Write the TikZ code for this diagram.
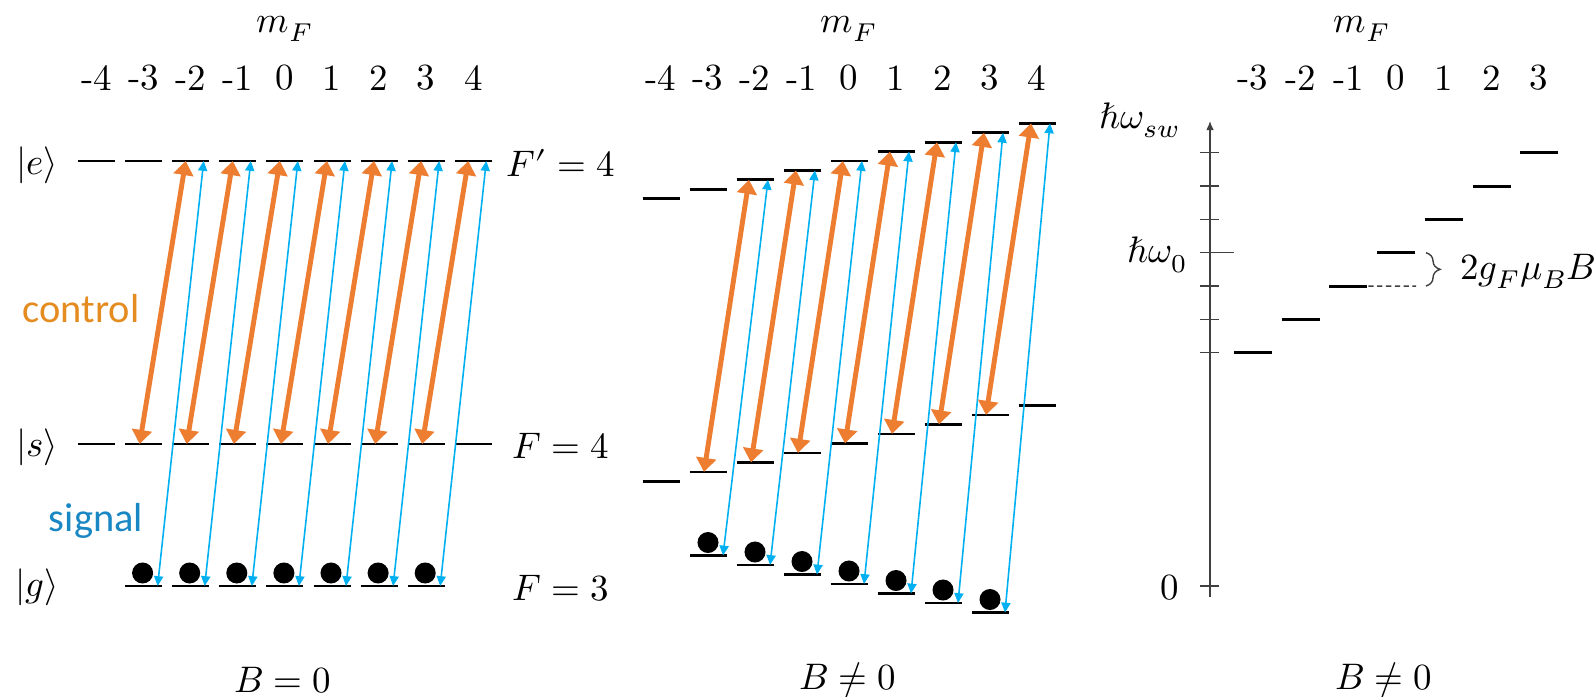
\documentclass[tikz,border=0pt]{standalone}
\usepackage{fontspec}
\usepackage{unicode-math}
\setmathfont{Latin Modern Math}
\newfontfamily\calibri{Carlito}
\usetikzlibrary{calc, arrows.meta, decorations.pathreplacing}
\definecolor{ctrlorange}{RGB}{237,125,49}
\definecolor{sigblue}{RGB}{0,176,240}
\definecolor{ctrltext}{RGB}{228,140,32}
\definecolor{sigtext}{RGB}{25,135,195}

\begin{document}
\begin{tikzpicture}[x=0.01cm, y=-0.01cm, thick, >=latex,
    font=\fontsize{10.5}{12.6}\selectfont,
    lvl/.style={line width=0.8pt},
    ctrl/.style={ctrlorange, line width=1.4pt, {Triangle[width=5.6pt,length=4pt]}-{Triangle[width=5.6pt,length=4pt]}},
    sig/.style={sigblue, line width=0.45pt, {Triangle[width=2.6pt,length=2.8pt]}-{Triangle[width=2.6pt,length=2.8pt]}},
    atom/.style={circle, fill=black, inner sep=0pt, minimum size=0.21cm},
    axis/.style={line width=0.4pt, black!75}]
    \useasboundingbox (0,0) rectangle (1596,697);

    % B = 0
    \node (mfL) at (285,29) {$m_F$};
    \foreach \k/\m in {0/-4,1/-3,2/-2,3/-1,4/0,5/1,6/2,7/3,8/4} {
        \node (Ln\k) at ({96.5+47.1*\k},78) {\m};
        \coordinate (Le\k) at ({96.5+47.1*\k},161);
        \coordinate (Ls\k) at ({96.5+47.1*\k},444);
        \draw[lvl] (Le\k) ++(-18.5,0) -- ++(37,0);
        \draw[lvl] (Ls\k) ++(-18.5,0) -- ++(37,0);
    }
    \foreach \k in {1,...,7} {
        \coordinate (Lg\k) at ({96.5+47.1*\k},586);
        \draw[lvl] (Lg\k) ++(-18.5,0) -- ++(37,0);
        \node[atom] (La\k) at ($(Lg\k)+(-1,-13)$) {};
    }
    \foreach \k in {1,...,7} {
        \pgfmathtruncatemacro{\j}{\k+1}
        \draw[ctrl] ($(Ls\k)+(-4,0)$) -- ($(Le\j)+(-5,0)$);
        \draw[sig] ($(Lg\k)+(14,0)$) -- ($(Le\j)+(13,0)$);
    }
    \node (ket_e) at (37,165) {$|e\rangle$};
    \node (ket_s) at (37,447) {$|s\rangle$};
    \node (ket_g) at (37,587) {$|g\rangle$};
    \node[ctrltext, font=\calibri\fontsize{11.5}{13}\selectfont] (ctrl) at (81,309) {control};
    \node[sigtext, font=\calibri\fontsize{11.5}{13}\selectfont] (sig) at (96,521) {signal};
    \node (Fe) at (561,163) {$F' = 4$};
    \node (Fs) at (561,446) {$F = 4$};
    \node (Fg) at (561,588) {$F = 3$};
    \node (BL) at (283,680) {$B = 0$};

    % B != 0, shifted levels
    \node (mfM) at (849,29) {$m_F$};
    \foreach \k/\m in {0/-4,1/-3,2/-2,3/-1,4/0,5/1,6/2,7/3,8/4} {
        \node (Mn\k) at ({661+47*\k},78) {\m};
        \coordinate (Me\k) at ({661+47*\k},{161-9.4*(\k-4)});
        \coordinate (Ms\k) at ({661+47*\k},{443.5-9.5*(\k-4)});
        \draw[lvl] (Me\k) ++(-18.5,0) -- ++(37,0);
        \draw[lvl] (Ms\k) ++(-18.5,0) -- ++(37,0);
    }
    \foreach \k in {1,...,7} {
        \coordinate (Mg\k) at ({661+47*\k},{584+9.5*(\k-4)});
        \draw[lvl] (Mg\k) ++(-18.5,0) -- ++(37,0);
        \node[atom] (Ma\k) at ($(Mg\k)+(0,-13)$) {};
    }
    \foreach \k in {1,...,7} {
        \pgfmathtruncatemacro{\j}{\k+1}
        \draw[ctrl] ($(Ms\k)+(-4,0)$) -- ($(Me\j)+(-6,0)$);
        \draw[sig] ($(Mg\k)+(15,0)$) -- ($(Me\j)+(13,0)$);
    }
    \node (BM) at (848,680) {$B \neq 0$};

    % energy axis
    \node (mfR) at (1362,29) {$m_F$};
    \coordinate (ax0) at (1210,597);
    \coordinate (axtop) at (1210,121);
    \draw[axis, -{Latex[length=2.6pt,width=2.2pt]}] (ax0) -- (axtop);
    \foreach \t in {586,352.7,319.3,286,219.3,186,152.7}
        \draw[axis] (1200,\t) -- (1219,\t);
    \draw[axis] (1200,252.7) -- (1234,252.7);
    \foreach \k/\m in {0/-3,1/-2,2/-1,3/0,4/1,5/2,6/3} {
        \node (Rn\k) at ({1253+47.7*\k},78) {\m};
        \coordinate (R\k) at ({1253+47.7*\k},{352.7-33.3*\k});
        \draw[lvl] (R\k) ++(-19,0) -- ++(38,0);
    }
    \coordinate (zee) at ($(R3)+(20,33.3)$);
    \draw[axis, dash pattern=on 1.5pt off 1pt] ($(R2)+(20,0)$) -- (zee);
    \draw[axis, decorate, decoration={brace, amplitude=4pt}] (1426,252.7) -- (1426,286);
    \node[anchor=west] (zeeman) at (1447,271) {$2g_F\mu_B B$};
    \node (wsw) at (1140,120) {$\hbar\omega_{sw}$};
    \node (w0) at (1158,255) {$\hbar\omega_0$};
    \node (zero) at (1170,588) {$0$};
    \node (BR) at (1384,680) {$B \neq 0$};
\end{tikzpicture}
\end{document}
